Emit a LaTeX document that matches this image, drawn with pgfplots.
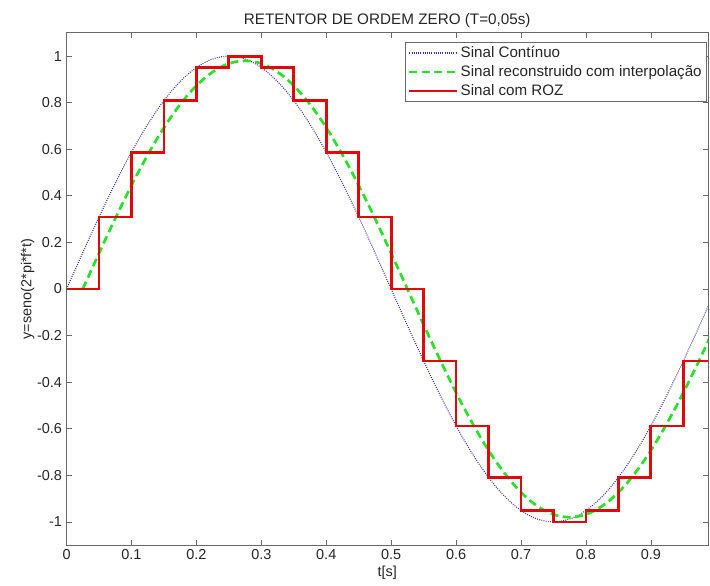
\documentclass[border=0pt]{standalone}
\usepackage{pgfplots}
\pgfplotsset{compat=1.18}
\usepackage{pgfplotstable}
\usepackage{fontspec}
\setmainfont{Liberation Sans}
\definecolor{cblue}{RGB}{55,50,170}
\definecolor{cgreen}{RGB}{40,225,40}
\definecolor{cred}{RGB}{220,10,10}
\definecolor{caxis}{RGB}{105,105,105}

\pgfplotstableread{
t y
0 0
0.01 0.0628
0.02 0.1253
0.03 0.1874
0.04 0.2487
0.05 0.3090
0.06 0.3681
0.07 0.4258
0.08 0.4818
0.09 0.5358
0.10 0.5878
0.11 0.6374
0.12 0.6845
0.13 0.7290
0.14 0.7705
0.15 0.8090
0.16 0.8443
0.17 0.8763
0.18 0.9048
0.19 0.9298
0.20 0.9511
0.21 0.9686
0.22 0.9823
0.23 0.9921
0.24 0.9980
0.25 1.0000
0.26 0.9980
0.27 0.9921
0.28 0.9823
0.29 0.9686
0.30 0.9511
0.31 0.9298
0.32 0.9048
0.33 0.8763
0.34 0.8443
0.35 0.8090
0.36 0.7705
0.37 0.7290
0.38 0.6845
0.39 0.6374
0.40 0.5878
0.41 0.5358
0.42 0.4818
0.43 0.4258
0.44 0.3681
0.45 0.3090
0.46 0.2487
0.47 0.1874
0.48 0.1253
0.49 0.0628
0.50 0
0.51 -0.0628
0.52 -0.1253
0.53 -0.1874
0.54 -0.2487
0.55 -0.3090
0.56 -0.3681
0.57 -0.4258
0.58 -0.4818
0.59 -0.5358
0.60 -0.5878
0.61 -0.6374
0.62 -0.6845
0.63 -0.7290
0.64 -0.7705
0.65 -0.8090
0.66 -0.8443
0.67 -0.8763
0.68 -0.9048
0.69 -0.9298
0.70 -0.9511
0.71 -0.9686
0.72 -0.9823
0.73 -0.9921
0.74 -0.9980
0.75 -1.0000
0.76 -0.9980
0.77 -0.9921
0.78 -0.9823
0.79 -0.9686
0.80 -0.9511
0.81 -0.9298
0.82 -0.9048
0.83 -0.8763
0.84 -0.8443
0.85 -0.8090
0.86 -0.7705
0.87 -0.7290
0.88 -0.6845
0.89 -0.6374
0.90 -0.5878
0.91 -0.5358
0.92 -0.4818
0.93 -0.4258
0.94 -0.3681
0.95 -0.3090
0.96 -0.2487
0.97 -0.1874
0.98 -0.1253
0.99 -0.0628
}\continuo

\pgfplotstableread{
t y
0.025 0
0.035 0.0616
0.045 0.1228
0.055 0.1837
0.065 0.2437
0.075 0.3028
0.085 0.3607
0.095 0.4173
0.105 0.4722
0.115 0.5251
0.125 0.5760
0.135 0.6247
0.145 0.6708
0.155 0.7144
0.165 0.7551
0.175 0.7928
0.185 0.8274
0.195 0.8588
0.205 0.8867
0.215 0.9112
0.225 0.9321
0.235 0.9492
0.245 0.9627
0.255 0.9723
0.265 0.9780
0.275 0.9800
0.285 0.9780
0.295 0.9723
0.305 0.9627
0.315 0.9492
0.325 0.9321
0.335 0.9112
0.345 0.8867
0.355 0.8588
0.365 0.8274
0.375 0.7928
0.385 0.7551
0.395 0.7144
0.405 0.6708
0.415 0.6247
0.425 0.5760
0.435 0.5251
0.445 0.4722
0.455 0.4173
0.465 0.3607
0.475 0.3028
0.485 0.2437
0.495 0.1837
0.505 0.1228
0.515 0.0616
0.525 0
0.535 -0.0616
0.545 -0.1228
0.555 -0.1837
0.565 -0.2437
0.575 -0.3028
0.585 -0.3607
0.595 -0.4173
0.605 -0.4722
0.615 -0.5251
0.625 -0.5760
0.635 -0.6247
0.645 -0.6708
0.655 -0.7144
0.665 -0.7551
0.675 -0.7928
0.685 -0.8274
0.695 -0.8588
0.705 -0.8867
0.715 -0.9112
0.725 -0.9321
0.735 -0.9492
0.745 -0.9627
0.755 -0.9723
0.765 -0.9780
0.775 -0.9800
0.785 -0.9780
0.795 -0.9723
0.805 -0.9627
0.815 -0.9492
0.825 -0.9321
0.835 -0.9112
0.845 -0.8867
0.855 -0.8588
0.865 -0.8274
0.875 -0.7928
0.885 -0.7551
0.895 -0.7144
0.905 -0.6708
0.915 -0.6247
0.925 -0.5760
0.935 -0.5251
0.945 -0.4722
0.955 -0.4173
0.965 -0.3607
0.975 -0.3028
0.985 -0.2437
0.990 -0.2138
}\interp

\pgfplotstableread{
t y
0.00 0
0.05 0.3090
0.10 0.5878
0.15 0.8090
0.20 0.9511
0.25 1.0000
0.30 0.9511
0.35 0.8090
0.40 0.5878
0.45 0.3090
0.50 0
0.55 -0.3090
0.60 -0.5878
0.65 -0.8090
0.70 -0.9511
0.75 -1.0000
0.80 -0.9511
0.85 -0.8090
0.90 -0.5878
0.95 -0.3090
1.00 -0.3090
}\roz

\begin{document}
\begin{tikzpicture}
\begin{axis}[
  name=ax,
  scale only axis,
  width=641bp, height=512bp,
  xmin=0, xmax=0.988,
  ymin=-1.1, ymax=1.1,
  xtick={0,0.1,...,0.9},
  ytick={-1,-0.8,...,1},
  tick align=inside,
  tick pos=both,
  major tick length=5bp,
  axis line style={caxis, line width=0.7bp},
  tick style={caxis, line width=0.7bp},
  /pgf/number format/assume math mode=true,
  /pgf/number format/fixed,
  tick label style={font=\fontsize{14.5}{16}\selectfont, text=black!85},
  xticklabel style={yshift=-1bp},
  yticklabel style={xshift=-1bp},
  label style={font=\fontsize{14.5}{16}\selectfont, text=black!85},
  xlabel={t[s]},
  ylabel={y=seno(2*pi*f*t)},
  xlabel style={yshift=1bp},
  ylabel style={yshift=-4bp},
  title={RETENTOR DE ORDEM ZERO (T=0,05s)},
  title style={font=\fontsize{15.3}{17}\selectfont, text=black!85, yshift=-4bp},
  legend style={at={(1,1)}, anchor=north east, xshift=-1bp, yshift=-9bp,
    draw=caxis, line width=0.7bp, font=\fontsize{15.2}{17}\selectfont,
    text=black!85, inner xsep=3bp, inner ysep=2.5bp, row sep=2.5bp,
    cells={anchor=west}},
  legend cell align=left,
  legend image code/.code={\path (0bp,0bp) -- (48bp,0bp); \draw[#1] (0bp,0bp) -- (42bp,0bp);},
]
\addplot[cblue, line width=1.1bp, dash pattern=on 0.9bp off 1.3bp] table[x=t,y=y] {\continuo};
\addlegendentry{Sinal Contínuo}
\addplot[cgreen, line width=2.7bp, dash pattern=on 8bp off 4.5bp] table[x=t,y=y] {\interp};
\addlegendentry{Sinal reconstruido com interpolação}
\addplot[cred, line width=2.8bp, const plot] table[x=t,y=y] {\roz};
\addlegendentry{Sinal com ROZ}
\end{axis}
\pgfresetboundingbox
\path ([shift={(-66.5bp,-40bp)}]ax.south west) rectangle ([shift={(2bp,32.8bp)}]ax.north east);
\end{tikzpicture}
\end{document}
